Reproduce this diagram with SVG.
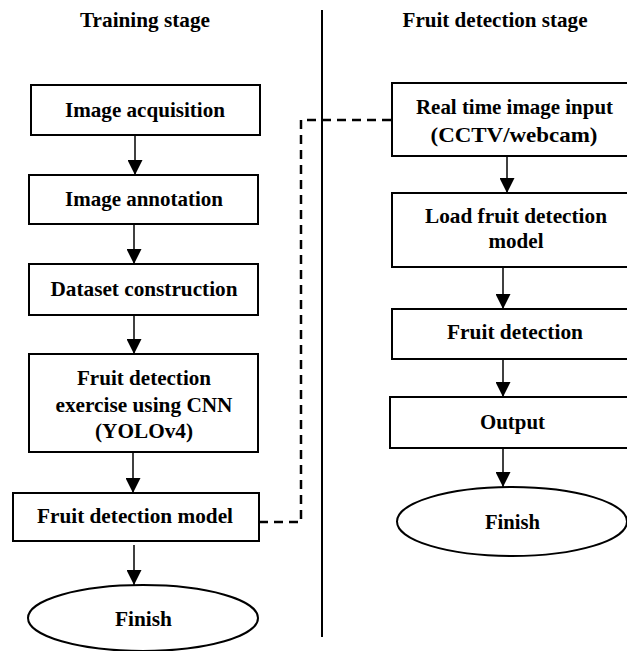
<svg xmlns="http://www.w3.org/2000/svg" width="627" height="651" viewBox="0 0 627 651">
<defs>
<style>
text{font-family:"Liberation Serif",Tinos,"Times New Roman",Times,"DejaVu Serif","Noto Serif",serif;font-weight:bold;font-size:21px;fill:#000;text-anchor:middle}
.box{fill:#fff;stroke:#000;stroke-width:2}
.arr{fill:none;stroke:#000;stroke-width:1.5;marker-end:url(#ah)}
.dash{fill:none;stroke:#000;stroke-width:2.5;stroke-dasharray:9 6}
</style>
<marker id="ah" viewBox="0 0 15 15" refX="15" refY="7.5" markerWidth="15" markerHeight="15" markerUnits="userSpaceOnUse" orient="auto">
<path d="M0,0 L15,7.5 L0,15 z" fill="#000"/>
</marker>
</defs>
<rect width="627" height="651" fill="#fff"/>
<g id="titles" font-family="Liberation Serif, serif">
<text x="145" y="27" textLength="130" lengthAdjust="spacingAndGlyphs">Training stage</text>
<text x="495" y="27" textLength="185" lengthAdjust="spacingAndGlyphs">Fruit detection stage</text>
</g>
<line id="divider" x1="322" y1="10" x2="322" y2="637" stroke="#000" stroke-width="2"/>
<g id="connectors">
<line class="arr" x1="135" y1="135" x2="135" y2="175"/>
<line class="arr" x1="134" y1="224" x2="134" y2="264"/>
<line class="arr" x1="134" y1="315" x2="134" y2="354"/>
<line class="arr" x1="133" y1="452" x2="133" y2="493"/>
<line class="arr" x1="134" y1="545" x2="134" y2="585"/>
<line class="arr" x1="507" y1="156" x2="507" y2="193"/>
<line class="arr" x1="503" y1="267" x2="503" y2="309"/>
<line class="arr" x1="503" y1="359" x2="503" y2="397"/>
<line class="arr" x1="503" y1="448" x2="503" y2="487"/>
<polyline class="dash" points="259,522 301,522 301,120 392,120"/>
</g>
<g id="n1"><rect class="box" x="31" y="85" width="229" height="50"/><text x="145" y="117" textLength="160" lengthAdjust="spacingAndGlyphs">Image acquisition</text></g>
<g id="n2"><rect class="box" x="29" y="175" width="229" height="49"/><text x="144" y="206" textLength="158" lengthAdjust="spacingAndGlyphs">Image annotation</text></g>
<g id="n3"><rect class="box" x="29" y="264" width="229" height="51"/><text x="144" y="296" textLength="187" lengthAdjust="spacingAndGlyphs">Dataset construction</text></g>
<g id="n4"><rect class="box" x="29" y="354" width="229" height="98"/><text x="144" y="385" textLength="134" lengthAdjust="spacingAndGlyphs">Fruit detection</text><text x="144" y="412" textLength="177" lengthAdjust="spacingAndGlyphs">exercise using CNN</text><text x="144" y="438" textLength="98" lengthAdjust="spacingAndGlyphs">(YOLOv4)</text></g>
<g id="n5"><rect class="box" x="13" y="493" width="246" height="48"/><text x="135" y="523" textLength="196" lengthAdjust="spacingAndGlyphs">Fruit detection model</text></g>
<g id="n6"><ellipse class="box" cx="143" cy="618" rx="115" ry="33"/><text x="143.5" y="626" textLength="57" lengthAdjust="spacingAndGlyphs">Finish</text></g>
<g id="r1"><rect class="box" x="392" y="83" width="240" height="73"/><text x="514.5" y="114" textLength="197" lengthAdjust="spacingAndGlyphs">Real time image input</text><text x="514" y="142" textLength="167" lengthAdjust="spacingAndGlyphs">(CCTV/webcam)</text></g>
<g id="r2"><rect class="box" x="392" y="193" width="240" height="74"/><text x="516" y="223" textLength="182" lengthAdjust="spacingAndGlyphs">Load fruit detection</text><text x="516" y="248" textLength="55" lengthAdjust="spacingAndGlyphs">model</text></g>
<g id="r3"><rect class="box" x="392" y="309" width="240" height="50"/><text x="515" y="339" textLength="136" lengthAdjust="spacingAndGlyphs">Fruit detection</text></g>
<g id="r4"><rect class="box" x="390" y="397" width="242" height="51"/><text x="512.5" y="429" textLength="65" lengthAdjust="spacingAndGlyphs">Output</text></g>
<g id="r5"><ellipse class="box" cx="512" cy="521.5" rx="115" ry="34.5"/><text x="512.5" y="529" textLength="55" lengthAdjust="spacingAndGlyphs">Finish</text></g>
</svg>
